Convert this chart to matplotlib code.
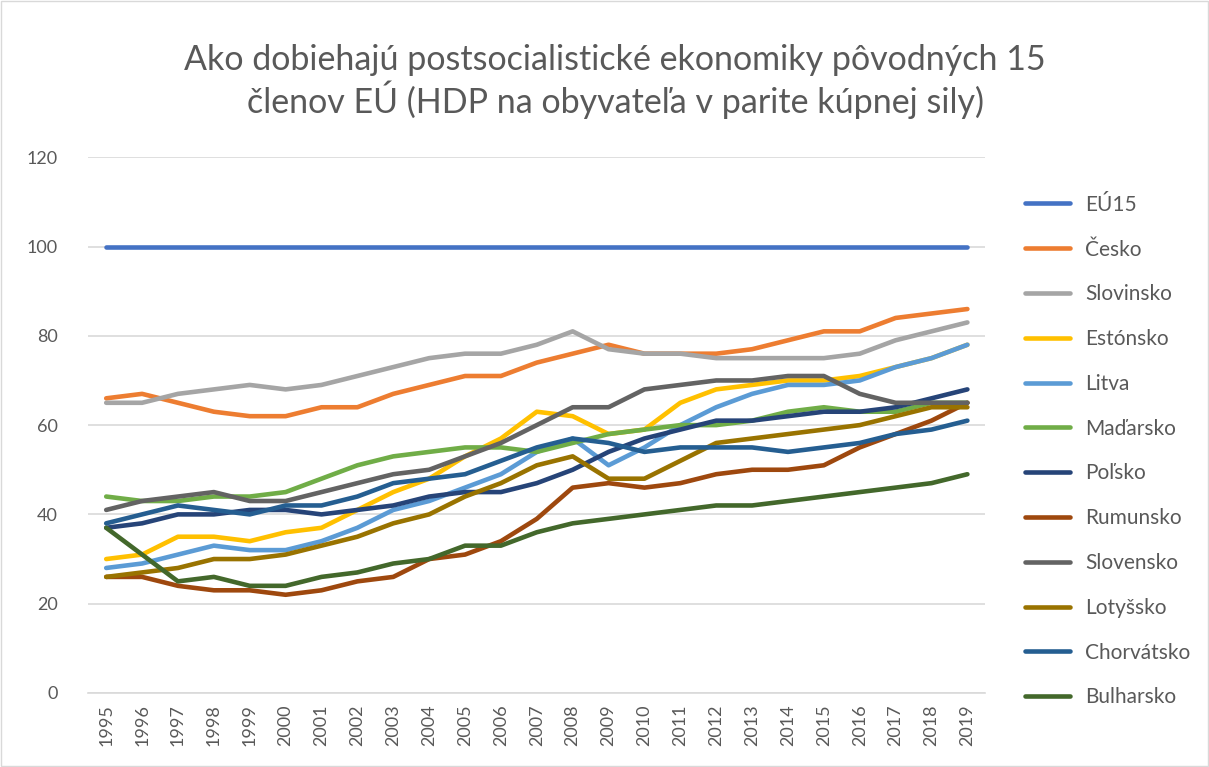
import numpy as np
import matplotlib
matplotlib.use("Agg")
import matplotlib.pyplot as plt
from matplotlib.patches import Rectangle

plt.rcParams['font.family'] = ['Lato', 'DejaVu Sans']

years = list(range(1995, 2020))

eu15 = [100] * 25
cesko = [66, 67, 65, 63, 62, 62, 64, 64, 67, 69, 71, 71, 74, 76, 78, 76, 76, 76, 77, 79, 81, 81, 84, 85, 86]
slovinsko = [65, 65, 67, 68, 69, 68, 69, 71, 73, 75, 76, 76, 78, 81, 77, 76, 76, 75, 75, 75, 75, 76, 79, 81, 83]
estonsko = [30, 31, 35, 35, 34, 36, 37, 41, 45, 48, 53, 57, 63, 62, 58, 59, 65, 68, 69, 70, 70, 71, 73, 75, 78]
litva = [28, 29, 31, 33, 32, 32, 34, 37, 41, 43, 46, 49, 54, 57, 51, 55, 60, 64, 67, 69, 69, 70, 73, 75, 78]
madarsko = [44, 43, 43, 44, 44, 45, 48, 51, 53, 54, 55, 55, 54, 56, 58, 59, 60, 60, 61, 63, 64, 63, 63, 65, 65]
polsko = [37, 38, 40, 40, 41, 41, 40, 41, 42, 44, 45, 45, 47, 50, 54, 57, 59, 61, 61, 62, 63, 63, 64, 66, 68]
rumunsko = [26, 26, 24, 23, 23, 22, 23, 25, 26, 30, 31, 34, 39, 46, 47, 46, 47, 49, 50, 50, 51, 55, 58, 61, 65]
slovensko = [41, 43, 44, 45, 43, 43, 45, 47, 49, 50, 53, 56, 60, 64, 64, 68, 69, 70, 70, 71, 71, 67, 65, 65, 65]
lotyssko = [26, 27, 28, 30, 30, 31, 33, 35, 38, 40, 44, 47, 51, 53, 48, 48, 52, 56, 57, 58, 59, 60, 62, 64, 64]
chorvatsko = [38, 40, 42, 41, 40, 42, 42, 44, 47, 48, 49, 52, 55, 57, 56, 54, 55, 55, 55, 54, 55, 56, 58, 59, 61]
bulharsko = [37, 31, 25, 26, 24, 24, 26, 27, 29, 30, 33, 33, 36, 38, 39, 40, 41, 42, 42, 43, 44, 45, 46, 47, 49]

series = [
    ("EÚ15", eu15, "#4472C4"),
    ("Česko", cesko, "#ED7D31"),
    ("Slovinsko", slovinsko, "#A5A5A5"),
    ("Estónsko", estonsko, "#FFC000"),
    ("Litva", litva, "#5B9BD5"),
    ("Maďarsko", madarsko, "#70AD47"),
    ("Poľsko", polsko, "#264478"),
    ("Rumunsko", rumunsko, "#9E480E"),
    ("Slovensko", slovensko, "#636363"),
    ("Lotyšsko", lotyssko, "#997300"),
    ("Chorvátsko", chorvatsko, "#255E91"),
    ("Bulharsko", bulharsko, "#43682B"),
]

fig = plt.figure(figsize=(12.09, 7.67), dpi=100)
ax = fig.add_axes([0.073, 0.0965, 0.742, 0.6985])

for name, vals, col in series:
    ax.plot(years, vals, color=col, lw=3.3, label=name, solid_capstyle='round', solid_joinstyle='round')

ax.set_xlim(1994.5, 2019.5)
ax.set_ylim(0, 120)
ax.set_yticks(range(0, 121, 20))
ax.set_xticks(years)
ax.set_xticklabels([str(y) for y in years], rotation=90)
ax.grid(axis='y', color='#D9D9D9', lw=1.2)
ax.set_axisbelow(True)
for s in ['top', 'right', 'left']:
    ax.spines[s].set_visible(False)
ax.spines['bottom'].set_color('#D9D9D9')
ax.spines['bottom'].set_linewidth(1.2)
ax.tick_params(axis='both', length=0, labelsize=13, labelcolor='#595959', pad=8)
ax.tick_params(axis='y', pad=22)

fig.suptitle("Ako dobiehajú postsocialistické ekonomiky pôvodných 15\nčlenov EÚ (HDP na obyvateľa v parite kúpnej sily)",
             x=0.5087, y=0.942, fontsize=24.5, color='#595959', linespacing=1.12)

leg = ax.legend(loc='center left', bbox_to_anchor=(1.0234, 0.4515), frameon=False,
                fontsize=15, labelspacing=1.19, handlelength=2.16, handletextpad=0.72)
for t in leg.get_texts():
    t.set_color('#595959')

fig.add_artist(Rectangle((0.001, 0.001), 0.998, 0.998, transform=fig.transFigure,
                         fill=False, edgecolor='#D9D9D9', lw=1))

fig.savefig("out.png", dpi=100)
